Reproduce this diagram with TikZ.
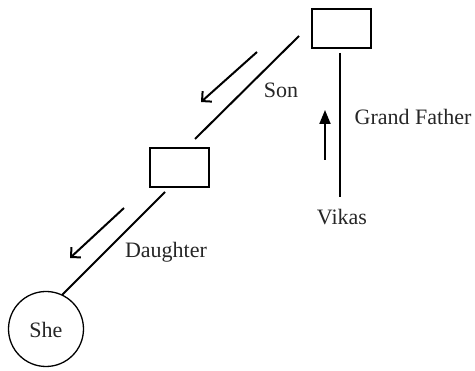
\documentclass[tikz,border=0pt]{standalone}
\usepackage{fontspec}
\setmainfont{Liberation Serif}
\usetikzlibrary{arrows.meta}
\begin{document}
\begin{tikzpicture}[x=1pt,y=-1pt,
  lbl/.style={inner sep=0pt,font=\fontsize{22}{26}\selectfont,text=black!85},
  member/.style={draw,line width=2pt,minimum width=59pt,minimum height=39pt,inner sep=0pt},
  link/.style={line width=2pt},
  dirarrow/.style={line width=2pt,-{Straight Barb[length=7pt,width=14pt,line width=2pt]}},
  uparrow/.style={line width=2pt,-{Triangle[length=14pt,width=11pt]}}]
\useasboundingbox (0,0) rectangle (475,371);
% nodes
\node[member] (gf) at (341,28.5) {};
\node[member] (son) at (179.5,167.5) {};
\node[draw,circle,line width=1.3pt,minimum size=75pt,inner sep=0pt] (she) at (46,329) {};
\node[lbl] at (46,330) {She};
\node[lbl] (vikas) at (342,217) {Vikas};
\node[lbl] (sonlbl) at (281,90) {Son};
\node[lbl] (gflbl) at (413,117) {Grand Father};
\node[lbl] (dlbl) at (166,252) {Daughter};
% connector ends
\coordinate (a1) at (299,36);
\coordinate (a2) at (195,139);
\coordinate (b1) at (165,192);
\coordinate (b2) at (62,295);
\coordinate (v1) at (340,53);
\coordinate (v2) at (340,197);
\coordinate (s1) at (257,52);
\coordinate (s2) at (201,102);
\coordinate (d1) at (124,208);
\coordinate (d2) at (70,258);
\coordinate (u1) at (325,160);
\coordinate (u2) at (325,110);
% connectors
\draw[link] (a1) -- (a2);
\draw[link] (b1) -- (b2);
\draw[link] (v1) -- (v2);
\draw[dirarrow] (s1) -- (s2);
\draw[dirarrow] (d1) -- (d2);
\draw[uparrow] (u1) -- (u2);
\end{tikzpicture}
\end{document}
